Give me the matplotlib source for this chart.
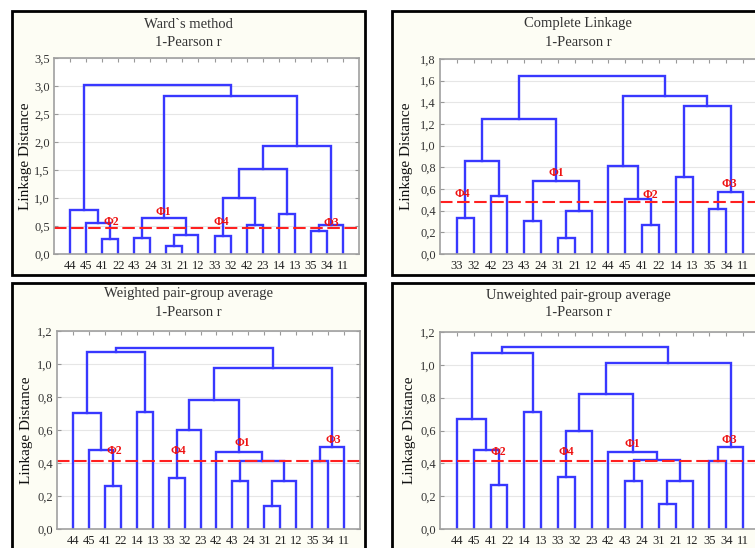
import matplotlib
matplotlib.use("Agg")
import matplotlib.pyplot as plt
from matplotlib.patches import Rectangle

W, H = 755, 548
plt.rcParams['font.family'] = ['Liberation Serif', 'DejaVu Serif']

# --- Ward's method ---
ward_leaves = ["44", "45", "41", "22", "43", "24", "31", "21", "12",
               "33", "32", "42", "23", "14", "13", "35", "34", "11"]
# (left node, right node, height); nodes >= 18 are earlier merges
ward_merges = [(2, 3, 0.26), (1, 18, 0.55), (0, 19, 0.79), (4, 5, 0.29),
               (6, 7, 0.14), (22, 8, 0.34), (21, 23, 0.64), (9, 10, 0.32),
               (11, 12, 0.52), (25, 26, 1.0), (13, 14, 0.71), (27, 28, 1.51),
               (15, 16, 0.41), (30, 17, 0.52), (29, 31, 1.93), (24, 32, 2.83),
               (20, 33, 3.02)]
ward_cut = 0.47
ward_marks = [("Φ2", 2.6, 0.57), ("Φ1", 5.8, 0.75), ("Φ4", 9.4, 0.57), ("Φ3", 16.3, 0.55)]

# --- Complete linkage ---
comp_leaves = ["33", "32", "42", "23", "43", "24", "31", "21", "12",
               "44", "45", "41", "22", "14", "13", "35", "34", "11"]
comp_merges = [(0, 1, 0.33), (2, 3, 0.535), (18, 19, 0.86), (4, 5, 0.30),
               (6, 7, 0.15), (22, 8, 0.40), (21, 23, 0.67), (20, 24, 1.25),
               (11, 12, 0.27), (10, 26, 0.51), (9, 27, 0.815), (13, 14, 0.71),
               (15, 16, 0.415), (30, 17, 0.575), (29, 31, 1.37), (28, 32, 1.46),
               (25, 33, 1.64)]
comp_cut = 0.48
comp_marks = [("Φ4", 0.35, 0.55), ("Φ1", 5.9, 0.75), ("Φ2", 11.5, 0.54), ("Φ3", 16.2, 0.65)]

# --- Weighted / unweighted pair-group average ---
avg_leaves = ["44", "45", "41", "22", "14", "13", "33", "32", "23",
              "42", "43", "24", "31", "21", "12", "35", "34", "11"]
wpg_merges = [(2, 3, 0.26), (1, 18, 0.48), (0, 19, 0.705), (4, 5, 0.71),
              (20, 21, 1.07), (6, 7, 0.31), (23, 8, 0.60), (10, 11, 0.29),
              (12, 13, 0.14), (26, 14, 0.29), (25, 27, 0.41), (9, 28, 0.465),
              (24, 29, 0.78), (15, 16, 0.41), (31, 17, 0.495), (30, 32, 0.975),
              (22, 33, 1.10)]
wpg_cut = 0.415
wpg_marks = [("Φ2", 2.6, 0.47), ("Φ4", 6.6, 0.47), ("Φ1", 10.6, 0.52), ("Φ3", 16.3, 0.54)]

upg_merges = [(2, 3, 0.27), (1, 18, 0.48), (0, 19, 0.67), (4, 5, 0.71),
              (20, 21, 1.075), (6, 7, 0.315), (23, 8, 0.60), (10, 11, 0.29),
              (12, 13, 0.15), (26, 14, 0.295), (25, 27, 0.42), (9, 28, 0.47),
              (24, 29, 0.82), (15, 16, 0.415), (31, 17, 0.50), (30, 32, 1.01),
              (22, 33, 1.11)]
upg_cut = 0.415
upg_marks = [("Φ2", 2.45, 0.47), ("Φ4", 6.5, 0.47), ("Φ1", 10.4, 0.52), ("Φ3", 16.2, 0.54)]

panels = [
    # title, leaves, merges, cut, marks, ymax, ystep, frame px, axes px, title x, title y, ylabel x
    ("Ward`s method", ward_leaves, ward_merges, ward_cut, ward_marks, 3.5, 0.5,
     (12, 11, 365, 275), (54, 58, 359, 254), 188, (24, 43), 23),
    ("Complete Linkage", comp_leaves, comp_merges, comp_cut, comp_marks, 1.8, 0.2,
     (392, 11, 780, 275), (440, 59, 760, 254), 578, (24, 43), 404),
    ("Weighted pair-group average", avg_leaves, wpg_merges, wpg_cut, wpg_marks, 1.2, 0.2,
     (12, 283, 365, 570), (57, 331, 360, 529), 188, (294, 312), 24),
    ("Unweighted pair-group average", avg_leaves, upg_merges, upg_cut, upg_marks, 1.2, 0.2,
     (392, 283, 780, 570), (440, 332, 760, 529), 578, (295, 313), 407),
]

fig = plt.figure(figsize=(W / 100, H / 100), dpi=100)

for title, leaves, merges, cut, marks, ymax, ystep, frame, box, tx, ty, lx in panels:
    x0, y0, x1, y1 = frame
    fig.add_artist(Rectangle((x0 / W, 1 - y1 / H), (x1 - x0) / W, (y1 - y0) / H,
                             transform=fig.transFigure, facecolor='#fdfdf4',
                             edgecolor='black', lw=2, zorder=-1))
    fig.text(tx / W, 1 - ty[0] / H, title, ha='center', va='center', fontsize=10.5, color='#333333')
    fig.text(tx / W, 1 - ty[1] / H, "1-Pearson r", ha='center', va='center', fontsize=10.5, color='#333333')

    l, t, r, b = box
    ax = fig.add_axes([l / W, 1 - b / H, (r - l) / W, (b - t) / H])
    ax.set_facecolor('white')

    n = len(leaves)
    pos = list(range(n))
    hgt = [0.0] * n
    for a, c, h in merges:
        ax.plot([pos[a], pos[a], pos[c], pos[c]], [hgt[a], h, h, hgt[c]],
                color='#3838ff', lw=1.7, solid_joinstyle='miter')
        pos.append((pos[a] + pos[c]) / 2)
        hgt.append(h)

    ax.axhline(cut, color='#ff2020', lw=1.5, dashes=(6, 2.2))
    for txt, mx, my in marks:
        ax.text(mx, my, txt, color='#ee1111', fontsize=8.5, fontweight='bold',
                ha='center', va='center')

    ax.set_xlim(-1, n)
    ax.set_ylim(0, ymax)
    yt = [i * ystep for i in range(int(round(ymax / ystep)) + 1)]
    ax.set_yticks(yt)
    ax.set_yticklabels([f"{v:.1f}".replace('.', ',') for v in yt], fontsize=9, color='#333333')
    ax.set_xticks(range(n))
    ax.set_xticklabels(leaves, fontsize=9, color='#222222')
    ax.tick_params(axis='x', bottom=False, top=True, direction='in', length=3,
                   color='#999999', pad=4)
    ax.tick_params(axis='y', left=True, right=True, direction='in', length=3,
                   color='#999999', pad=3)
    ax.grid(axis='y', color='#e6e6e6', lw=0.8)
    ax.set_axisbelow(True)
    for s in ax.spines.values():
        s.set_color('#a0a0a0')
        s.set_linewidth(1.2)
    ax.set_ylabel("Linkage Distance", fontsize=11, color='#111111')
    ax.yaxis.set_label_coords((lx + 9 - l) / (r - l), 0.5)

fig.savefig("out.png", dpi=100)
